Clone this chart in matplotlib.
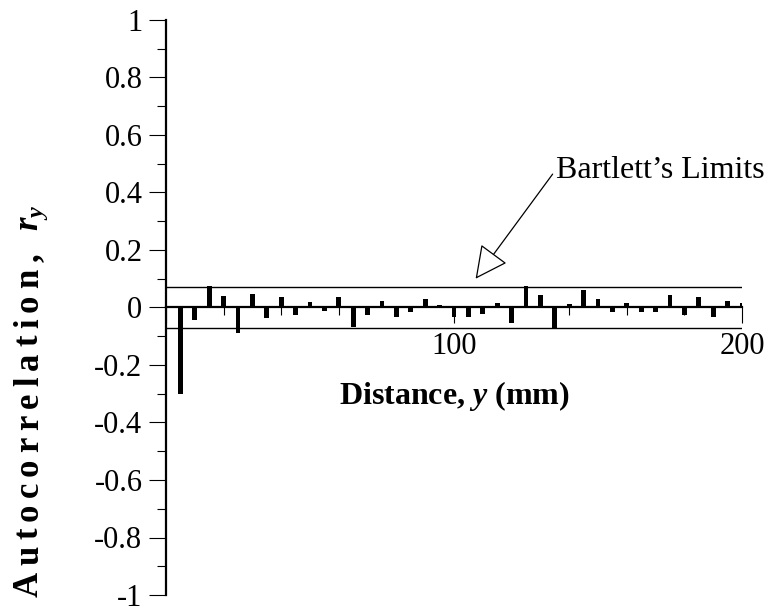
import matplotlib
matplotlib.use("Agg")
import matplotlib.pyplot as plt
from matplotlib.ticker import MultipleLocator, FixedLocator

plt.rcParams["font.family"] = ["Liberation Serif", "DejaVu Serif"]
plt.rcParams["mathtext.fontset"] = "custom"
plt.rcParams["mathtext.it"] = "Liberation Serif:bold:italic"
plt.rcParams["mathtext.rm"] = "Liberation Serif:bold"
plt.rcParams["mathtext.bf"] = "Liberation Serif:bold"

# Lag distance (mm) and sample autocorrelation at each lag
lags = [5, 10, 15, 20, 25, 30, 35, 40, 45, 50,
        55, 60, 65, 70, 75, 80, 85, 90, 95, 100,
        105, 110, 115, 120, 125, 130, 135, 140, 145, 150,
        155, 160, 165, 170, 175, 180, 185, 190, 195, 200]
r_y = [-0.300, -0.044, 0.076, 0.041, -0.088, 0.047, -0.036, 0.037, -0.026, 0.018,
       -0.013, 0.035, -0.069, -0.027, 0.022, -0.034, -0.016, 0.029, 0.010, -0.034,
       -0.033, -0.023, 0.016, -0.053, 0.076, 0.045, -0.073, 0.013, 0.062, 0.030,
       -0.015, 0.015, -0.016, -0.014, 0.045, -0.027, 0.036, -0.032, 0.022, 0.016]
bartlett_limit = 0.07
x_major = [0, 100, 200]
x_major_labels = ["", "100", "200"]
y_ticks = [-1, -0.8, -0.6, -0.4, -0.2, 0, 0.2, 0.4, 0.6, 0.8, 1]
y_tick_labels = ["-1", "-0.8", "-0.6", "-0.4", "-0.2", "0", "0.2", "0.4", "0.6", "0.8", "1"]

W, H = 770, 608
fig = plt.figure(figsize=(W / 100, H / 100), dpi=100)
ax = fig.add_axes([166 / W, 1 - 595 / H, 576 / W, 575 / H])

ax.bar(lags, r_y, width=1.7, color="black", zorder=3)
ax.axhline(bartlett_limit, color="black", lw=1.0, zorder=2)
ax.axhline(-bartlett_limit, color="black", lw=1.0, zorder=2)

ax.set_xlim(0, 200)
ax.set_ylim(-1, 1)

for s in ("top", "right"):
    ax.spines[s].set_visible(False)
ax.spines["bottom"].set_position(("data", 0))
ax.spines["bottom"].set_linewidth(1.6)
ax.spines["left"].set_linewidth(1.6)
ax.spines["bottom"].set_zorder(4)

ax.xaxis.set_major_locator(FixedLocator(x_major))
ax.set_xticklabels(x_major_labels)
ax.xaxis.set_minor_locator(MultipleLocator(20))
ax.set_yticks(y_ticks)
ax.set_yticklabels(y_tick_labels)
ax.yaxis.set_minor_locator(MultipleLocator(0.1))

ax.tick_params(axis="x", which="major", direction="out", length=11.5, width=0.8,
               labelsize=22, pad=6)
ax.tick_params(axis="x", which="minor", direction="out", length=5.8, width=0.8)
ax.tick_params(axis="y", which="major", direction="out", length=12, width=0.8,
               labelsize=22, pad=5)
ax.tick_params(axis="y", which="minor", direction="out", length=6.5, width=0.8)

ax.text(0.5, 0.375, r"Distance, $y$ (mm)", transform=ax.transAxes,
        ha="center", va="top", fontsize=23, fontweight="bold")

# Vertical axis title, set letter by letter with open tracking
label_size = 25
tokens = list("Autocorrelation,") + [" ", r"$r_{y}$"]
renderer = fig.canvas.get_renderer()
widths = []
for tok in tokens:
    if tok == " ":
        widths.append(0.25 * label_size * 100 / 72)
        continue
    probe = fig.text(0, 0, tok, fontsize=label_size, fontweight="bold")
    widths.append(probe.get_window_extent(renderer).width)
    probe.remove()
y_start, y_end = H - 597, H - 205
gap = (y_end - y_start - sum(widths)) / (len(tokens) - 1)
baseline_x = 38
pos = y_start
for tok, w in zip(tokens, widths):
    if tok != " ":
        fig.text(baseline_x / W, pos / H, tok, rotation=90, rotation_mode="anchor",
                 ha="left", va="baseline", fontsize=label_size, fontweight="bold")
    pos += w + gap

ax.annotate("Bartlett\u2019s Limits", xy=(107.5, 0.1), xytext=(135.5, 0.476),
            fontsize=23, ha="left", va="center",
            arrowprops=dict(arrowstyle="-|>,head_length=0.9,head_width=0.45",
                            facecolor="white", edgecolor="black", lw=0.9,
                            shrinkA=1, shrinkB=0, relpos=(0, 0.55)))

fig.savefig("out.png", dpi=100)
